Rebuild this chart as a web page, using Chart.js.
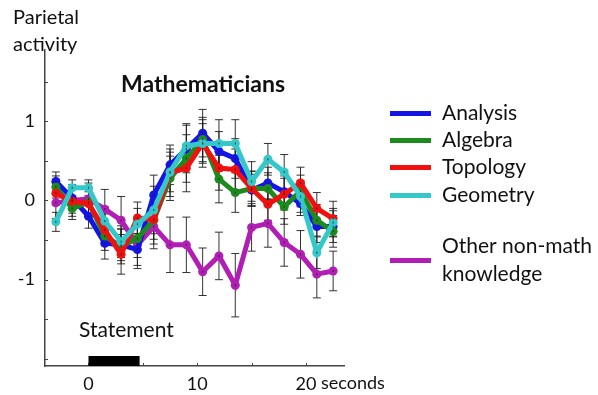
<!DOCTYPE html>
<html>
<head>
<meta charset="utf-8">
<script src="https://cdn.jsdelivr.net/npm/chart.js@4"></script>
<style>
  html, body { margin: 0; padding: 0; background: #fff; }
  #wrap { width: 598px; height: 395px; }
</style>
</head>
<body>
<div id="wrap"><canvas id="chart" width="598" height="395"></canvas></div>
<script>
// time points (seconds)
const times = [-3, -1.5, 0, 1.5, 3, 4.5, 6, 7.5, 9, 10.5, 12, 13.5, 15, 16.5, 18, 19.5, 21, 22.5];

const seriesNames = ["Analysis", "Algebra", "Topology", "Geometry", "Other non-math knowledge"];
const seriesColors = ["#1414e6", "#1e8a1e", "#f01010", "#35c8c8", "#b01eb4"];

const analysis = [0.24, 0.03, -0.2, -0.54, -0.56, -0.62, 0.07, 0.45, 0.65, 0.85, 0.62, 0.53, 0.13, 0.22, 0.11, -0.04, -0.33, -0.33];
const algebra  = [0.17, -0.1, -0.02, -0.45, -0.58, -0.48, -0.25, 0.28, 0.53, 0.77, 0.27, 0.1, 0.15, 0.15, -0.08, 0.12, -0.25, -0.39];
const topology = [0.09, -0.01, -0.04, -0.37, -0.68, -0.22, -0.24, 0.35, 0.41, 0.72, 0.41, 0.39, 0.15, -0.05, 0.08, 0.22, -0.1, -0.23];
const geometry = [-0.27, 0.16, 0.16, -0.26, -0.52, -0.3, -0.12, 0.36, 0.69, 0.72, 0.72, 0.72, 0.24, 0.52, 0.36, 0.05, -0.66, -0.28];
const otherKnowledge = [-0.03, 0.0, 0.02, -0.11, -0.25, -0.56, -0.33, -0.56, -0.56, -0.9, -0.7, -1.07, -0.34, -0.29, -0.53, -0.68, -0.93, -0.89];

// standard error half-widths
const analysisErr = [0.12, 0.15, 0.15, 0.2, 0.2, 0.2, 0.25, 0.25, 0.3, 0.3, 0.25, 0.25, 0.2, 0.2, 0.2, 0.15, 0.2, 0.2];
const algebraErr  = [0.14, 0.14, 0.16, 0.18, 0.22, 0.24, 0.3, 0.28, 0.3, 0.28, 0.3, 0.25, 0.22, 0.2, 0.22, 0.2, 0.2, 0.2];
const topologyErr = [0.15, 0.15, 0.15, 0.2, 0.25, 0.2, 0.25, 0.3, 0.3, 0.25, 0.28, 0.26, 0.22, 0.2, 0.2, 0.2, 0.2, 0.22];
const geometryErr = [0.12, 0.1, 0.1, 0.18, 0.2, 0.2, 0.3, 0.25, 0.28, 0.3, 0.3, 0.3, 0.25, 0.2, 0.22, 0.2, 0.2, 0.18];
const otherErr    = [0.2, 0.2, 0.2, 0.25, 0.3, 0.3, 0.28, 0.35, 0.35, 0.3, 0.3, 0.4, 0.3, 0.3, 0.3, 0.3, 0.3, 0.25];

const yTickMarks = [-2, -1.5, -1, -0.5, 0, 0.5, 1, 1.5];
const xTickMarks = [0, 5, 10, 15, 20];
const stimulus = [0, 4.7];   // "Statement" period

const allValues = [analysis, algebra, topology, geometry, otherKnowledge];
const allErrors = [analysisErr, algebraErr, topologyErr, geometryErr, otherErr];
const drawOrder = [3, 2, 1, 0, 4];

const FONT = "Lato, 'Liberation Sans', sans-serif";

const datasets = allValues.map((vals, i) => ({
    label: seriesNames[i],
    data: times.map((t, j) => ({ x: t, y: vals[j] })),
    borderColor: seriesColors[i],
    backgroundColor: seriesColors[i],
    borderWidth: 5,
    pointRadius: 4.5,
    pointBorderWidth: 0,
    tension: 0,
    order: drawOrder[i],
    errors: allErrors[i]
}));

// error bars behind the lines
const errorBars = {
    id: "errorBars",
    beforeDatasetsDraw(chart) {
        const ctx = chart.ctx, y = chart.scales.y;
        ctx.save();
        ctx.strokeStyle = "rgba(30,30,30,0.9)";
        ctx.lineWidth = 1;
        chart.data.datasets.forEach((ds, i) => {
            const meta = chart.getDatasetMeta(i);
            meta.data.forEach((pt, j) => {
                const v = ds.data[j].y, e = ds.errors[j];
                const top = y.getPixelForValue(v + e), bot = y.getPixelForValue(v - e);
                ctx.beginPath();
                ctx.moveTo(pt.x, top); ctx.lineTo(pt.x, bot);
                ctx.moveTo(pt.x - 4, top); ctx.lineTo(pt.x + 4, top);
                ctx.moveTo(pt.x - 4, bot); ctx.lineTo(pt.x + 4, bot);
                ctx.stroke();
            });
        });
        ctx.restore();
    },
    afterDatasetsDraw(chart) {
        const ctx = chart.ctx;
        ctx.save();
        ctx.fillStyle = "rgba(30,30,30,0.8)";
        chart.data.datasets.forEach((ds, i) => {
            chart.getDatasetMeta(i).data.forEach(pt => {
                ctx.fillRect(pt.x - 0.5, pt.y - 1, 1, 2);
            });
        });
        ctx.restore();
    }
};

// annotations: axis ticks, titles, stimulus bar, legend
const decorations = {
    id: "decorations",
    afterDraw(chart) {
        const ctx = chart.ctx, xs = chart.scales.x, ys = chart.scales.y;
        const area = chart.chartArea;
        ctx.save();
        ctx.strokeStyle = "#444";
        ctx.lineWidth = 1;
        yTickMarks.forEach(v => {
            const p = Math.round(ys.getPixelForValue(v)) + 0.5;
            ctx.beginPath(); ctx.moveTo(area.left, p); ctx.lineTo(area.left + 3, p); ctx.stroke();
        });
        xTickMarks.forEach(v => {
            const p = Math.round(xs.getPixelForValue(v)) + 0.5;
            ctx.beginPath(); ctx.moveTo(p, area.bottom); ctx.lineTo(p, area.bottom - 3); ctx.stroke();
        });

        // stimulus bar
        ctx.fillStyle = "#000";
        const x0 = xs.getPixelForValue(stimulus[0]), x1 = xs.getPixelForValue(stimulus[1]);
        ctx.fillRect(x0, area.bottom - 10, x1 - x0, 10);

        ctx.fillStyle = "#111";
        ctx.textBaseline = "alphabetic";
        ctx.textAlign = "left";
        ctx.font = "21px " + FONT;
        ctx.fillText("Statement", 79, 337);
        ctx.font = "20px " + FONT;
        ctx.fillText("Parietal", 13, 24);
        ctx.fillText("activity", 13, 51);

        // "seconds" after the 20 label
        ctx.font = "18px " + FONT;
        const p20 = xs.getPixelForValue(20);
        const w20 = ctx.measureText("20").width;
        ctx.fillText(" seconds", p20 + w20 / 2, 389);

        ctx.font = "bold 23px " + FONT;
        ctx.textAlign = "center";
        ctx.fillText("Mathematicians", 203, 92);

        // legend
        ctx.textAlign = "left";
        ctx.font = "21px " + FONT;
        const rows = [113, 140, 167, 195, 260];
        seriesNames.forEach((name, i) => {
            ctx.fillStyle = seriesColors[i];
            ctx.fillRect(390, rows[i] - 2, 41, 5);
            ctx.fillStyle = "#111";
            if (i === 4) {
                ctx.fillText("Other non-math", 442, rows[i] - 7);
                ctx.fillText("knowledge", 442, rows[i] + 21);
            } else {
                ctx.fillText(name, 442, rows[i] + 7);
            }
        });
        ctx.restore();
    }
};

new Chart(document.getElementById("chart").getContext("2d"), {
    type: "line",
    data: { datasets: datasets },
    options: {
        responsive: false,
        animation: false,
        layout: { padding: { top: 50, right: 254, left: 0, bottom: 0 } },
        plugins: { legend: { display: false }, tooltip: { enabled: false } },
        scales: {
            x: {
                type: "linear",
                min: -4, max: 23.5,
                afterFit: s => { s.height = 29; },
                grid: { display: false, drawTicks: false },
                border: { display: true, color: "#444", width: 1.5 },
                ticks: {
                    stepSize: 5,
                    includeBounds: false,
                    autoSkip: false,
                    maxRotation: 0,
                    padding: 7,
                    color: "#111",
                    font: { family: FONT, size: 18 },
                    callback: v => (v === 0 || v === 10 || v === 20) ? String(v) : ""
                }
            },
            y: {
                min: -2.09, max: 1.9,
                afterFit: s => { s.width = 45; },
                grid: { display: false, drawTicks: false },
                border: { display: true, color: "#444", width: 1.5 },
                ticks: {
                    stepSize: 0.5,
                    includeBounds: false,
                    autoSkip: false,
                    padding: 10,
                    color: "#111",
                    font: { family: FONT, size: 18 },
                    callback: v => (v === 1 || v === 0 || v === -1) ? String(v) : ""
                }
            }
        }
    },
    plugins: [errorBars, decorations]
});
</script>
</body>
</html>
